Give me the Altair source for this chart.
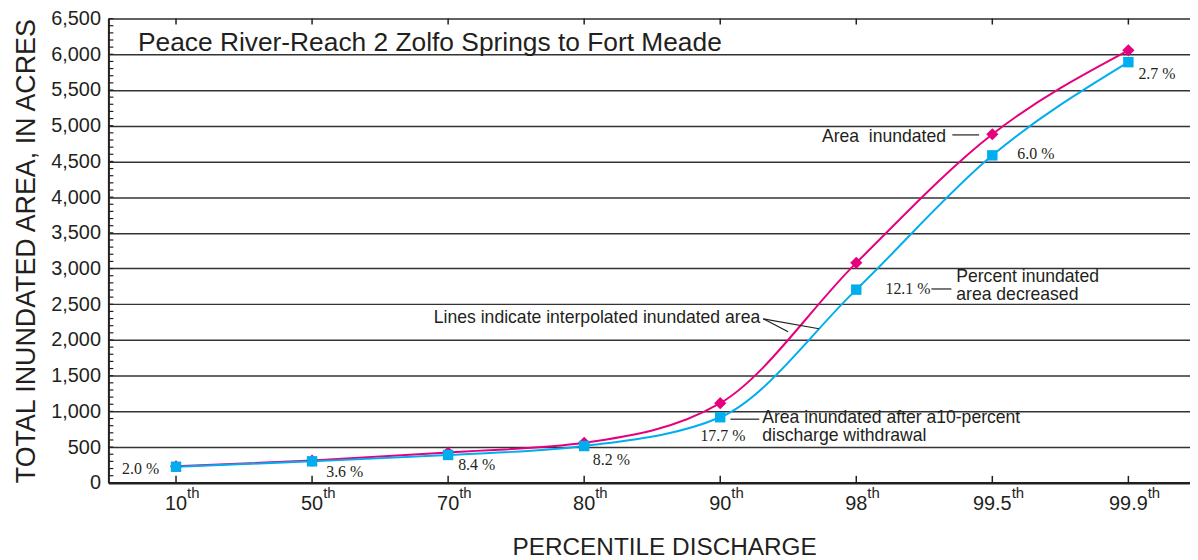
import altair as alt
import pandas as pd

# ---------------- data ----------------
categories = ["10", "50", "70", "80", "90", "98", "99.5", "99.9"]
area_inundated = [232, 312, 425, 560, 1115, 3080, 4880, 6055]
area_after_withdrawal = [225, 301, 390, 515, 918, 2705, 4585, 5890]
percent_decrease = ["2.0 %", "3.6 %", "8.4 %", "8.2 %", "17.7 %", "12.1 %", "6.0 %", "2.7 %"]
percent_label_x = [-0.26, 1.24, 2.21, 3.20, 4.02, 5.38, 6.32, 7.21]
percent_label_y = [195, 153, 251, 320, 654, 2714, 4606, 5720]

title_text = "Peace River-Reach 2 Zolfo Springs to Fort Meade"
note_texts = ["Area\u00a0 inundated", "Percent inundated", "area decreased",
              "Lines indicate interpolated inundated area",
              "Area inundated after a10-percent", "discharge withdrawal"]
note_x = [5.66, 5.735, 5.735, 4.294, 4.309, 4.309]
note_y = [4843, 2885, 2635, 2310, 905, 655]
note_align = ["right", "left", "left", "right", "left", "left"]

leader_x = [5.706, 5.552, 4.316, 4.316, 4.075]
leader_x2 = [5.903, 5.699, 4.499, 4.726, 4.287]
leader_y = [4871, 2714, 2296, 2296, 891]
leader_y2 = [4871, 2714, 2116, 2157, 891]

y_ticks = list(range(0, 6501, 500))
minor_ticks = list(range(0, 6501, 100))

# ---------------- layout / style ----------------
PLOT_W, PLOT_H = 1088, 467
X_DOMAIN = [-0.497, 7.453]
STEP_PX = PLOT_W / (X_DOMAIN[1] - X_DOMAIN[0])
SANS = "Liberation Sans"
SERIF = "Liberation Serif"
TXT = "#231f20"
MAGENTA = "#E6007E"
CYAN = "#00AEEF"
TICK_FONT = 20
NOTE_FONT = 17.7

xs = alt.Scale(domain=X_DOMAIN, nice=False, zero=False)
ys = alt.Scale(domain=[0, 6500], nice=False)

df = pd.DataFrame({
    "idx": list(range(len(categories))),
    "cat": categories,
    "area": area_inundated,
    "after": area_after_withdrawal,
})
# half width of each tick number (for placing the superscript "th")
df["th_x"] = [i + (sum(0.278 if c == "." else 0.556 for c in c_) * TICK_FONT / 2) / STEP_PX
              for i, c_ in zip(df["idx"], df["cat"])]

pct_df = pd.DataFrame({"label": percent_decrease, "x": percent_label_x, "y": percent_label_y})
note_df = pd.DataFrame({"label": note_texts, "x": note_x, "y": note_y, "align": note_align})
lead_df = pd.DataFrame({"x": leader_x, "x2": leader_x2, "y": leader_y, "y2": leader_y2})
minor_df = pd.DataFrame({"v": minor_ticks})
title_df = pd.DataFrame({"label": [title_text], "x": [-0.28], "y": [6152]})

base = alt.Chart(df)

x_axis = alt.Axis(title="PERCENTILE DISCHARGE", labels=False, ticks=False, grid=False,
                  domainColor=TXT, domainWidth=2.5, titleFont=SANS, titleFontSize=24.5,
                  titleFontWeight="normal", titleColor=TXT, titlePadding=53, titleX=559)
y_axis = alt.Axis(title="TOTAL INUNDATED AREA, IN ACRES", values=y_ticks,
                  labelExpr="format(datum.value, ',')",
                  labelOverlap=False, ticks=False, grid=True, gridColor="#333333",
                  gridWidth=1.5, domainColor=TXT, domainWidth=2, labelFont=SANS,
                  labelFontSize=TICK_FONT, labelColor=TXT, labelPadding=8,
                  titleFont=SANS, titleFontSize=27, titleFontWeight="normal",
                  titleColor=TXT, titlePadding=10)


def X(field):
    return alt.X(field, scale=xs, axis=x_axis)


def Y(field):
    return alt.Y(field, scale=ys, axis=y_axis)


area_line = base.mark_line(color=MAGENTA, strokeWidth=2, interpolate="monotone").encode(
    x=X("idx:Q"), y=Y("area:Q"))
after_line = base.mark_line(color=CYAN, strokeWidth=2, interpolate="monotone").encode(
    x=X("idx:Q"), y=Y("after:Q"))
area_pts = base.mark_point(shape="diamond", filled=True, color=MAGENTA, size=150, opacity=1).encode(
    x=X("idx:Q"), y=Y("area:Q"))
after_pts = base.mark_point(shape="square", filled=True, color=CYAN, size=110, opacity=1).encode(
    x=X("idx:Q"), y=Y("after:Q"))

minor = alt.Chart(minor_df).mark_rule(color=TXT, strokeWidth=1.2).encode(
    y=Y("v:Q"), x=alt.value(0), x2=alt.value(5))
bottom_ticks = base.mark_rule(color=TXT, strokeWidth=1.5).encode(
    x=X("idx:Q"), y=alt.value(PLOT_H), y2=alt.value(PLOT_H - 7))
top_ticks = base.mark_rule(color=TXT, strokeWidth=1.5).encode(
    x=X("idx:Q"), y=alt.value(0), y2=alt.value(6))

tick_num = base.mark_text(font=SANS, fontSize=TICK_FONT, color=TXT, align="center",
                          baseline="alphabetic").encode(
    x=X("idx:Q"), y=alt.value(PLOT_H + 27), text="cat:N")
tick_th = base.mark_text(font=SANS, fontSize=15, color=TXT, align="left",
                         baseline="alphabetic").encode(
    x=X("th_x:Q"), y=alt.value(PLOT_H + 15), text=alt.value("th"))

pct_text = alt.Chart(pct_df).mark_text(font=SERIF, fontSize=16, color=TXT, align="center",
                                       baseline="middle").encode(
    x=X("x:Q"), y=Y("y:Q"), text="label:N")

notes_left = alt.Chart(note_df[note_df["align"] == "left"]).mark_text(
    font=SANS, fontSize=NOTE_FONT, color=TXT, align="left", baseline="middle").encode(
    x=X("x:Q"), y=Y("y:Q"), text="label:N")
notes_right = alt.Chart(note_df[note_df["align"] == "right"]).mark_text(
    font=SANS, fontSize=NOTE_FONT, color=TXT, align="right", baseline="middle").encode(
    x=X("x:Q"), y=Y("y:Q"), text="label:N")
leaders = alt.Chart(lead_df).mark_rule(color=TXT, strokeWidth=1.2).encode(
    x=X("x:Q"), x2="x2:Q", y=Y("y:Q"), y2="y2:Q")

title = alt.Chart(title_df).mark_text(font=SANS, fontSize=26.5, color=TXT, align="left",
                                      baseline="middle").encode(
    x=X("x:Q"), y=Y("y:Q"), text="label:N")

chart = alt.layer(
    area_line, after_line, minor, bottom_ticks, top_ticks, area_pts, after_pts,
    tick_num, tick_th, pct_text, notes_left, notes_right, leaders, title,
).properties(
    width=PLOT_W, height=PLOT_H,
    padding={"left": 101, "top": 9, "right": 0, "bottom": 76},
    autosize=alt.AutoSizeParams(type="none"),
).configure_view(strokeWidth=0).configure(background="white")

chart.save("out.html", embed_options={"renderer": "svg", "actions": False})
